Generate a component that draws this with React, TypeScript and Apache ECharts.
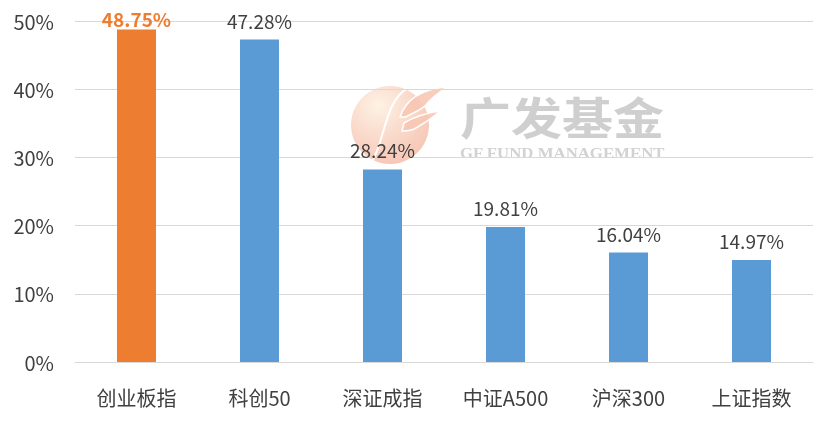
import React, { useEffect, useRef } from "react";
import * as echarts from "echarts";

const categories = ["创业板指", "科创50", "深证成指", "中证A500", "沪深300", "上证指数"];
const values = [48.75, 47.28, 28.24, 19.81, 16.04, 14.97];
const yTicks = [0, 10, 20, 30, 40, 50];
const highlightIndex = 0;

const FONT = "'Noto Sans CJK SC', 'Noto Sans', sans-serif";

echarts.graphic.registerShape(
  "gfWing",
  echarts.graphic.extendPath(
    "M0 30 C6 12 22 2 47 0 C38 6 30 12 26 18 C20 24 12 26 6 30 Z M4 36 C14 30 26 26 40 24 C32 32 24 36 14 42 C10 44 6 44 2 44 Z",
    {}
  )
);

export default function App() {
  const ref = useRef<HTMLDivElement>(null);
  useEffect(() => {
    if (!ref.current) return;
    const chart = echarts.init(ref.current, undefined, { renderer: "svg" });
    chart.setOption({
      animation: false,
      grid: { left: 75, right: 15, top: 21, bottom: 61 },
      graphic: [
        {
          type: "circle",
          z: 0,
          shape: { cx: 390, cy: 125, r: 39 },
          style: {
            fill: new echarts.graphic.RadialGradient(0.35, 0.25, 0.85, [
              { offset: 0, color: "rgba(253,242,228,0.95)" },
              { offset: 1, color: "rgba(245,185,165,0.85)" },
            ]),
          },
        },
        {
          type: "gfWing",
          z: 0,
          x: 400,
          y: 87,
          style: { fill: "rgba(247,200,180,0.9)", stroke: "#ffffff", lineWidth: 1.5 },
        },
        {
          type: "bezierCurve",
          z: 0,
          shape: { x1: 372, y1: 162, cpx1: 385, cpy1: 140, cpx2: 385, cpy2: 100, x2: 408, y2: 88 },
          style: { stroke: "#ffffff", lineWidth: 2, fill: "none" },
        },
        {
          type: "text",
          z: 0,
          x: 460,
          y: 94,
          scaleX: 1.16,
          style: {
            text: "广发基金",
            font: "bold 44px 'Noto Sans CJK SC'",
            fill: "#cfcfcf",
          },
        },
        {
          type: "text",
          z: 0,
          x: 460,
          y: 145,
          scaleX: 1.12,
          style: {
            text: "GF FUND MANAGEMENT",
            font: "bold 15px 'Liberation Serif', serif",
            fill: "#d2d2d2",
          },
        },
      ],
      xAxis: {
        type: "category",
        data: categories,
        axisLine: { lineStyle: { color: "#d9d9d9" } },
        axisTick: { show: false },
        axisLabel: { color: "#404040", fontSize: 20, fontFamily: FONT, margin: 25 },
      },
      yAxis: {
        type: "value",
        min: yTicks[0],
        max: yTicks[yTicks.length - 1],
        interval: 10,
        axisLine: { show: false },
        axisTick: { show: false },
        splitLine: { lineStyle: { color: "#d9d9d9" } },
        axisLabel: {
          color: "#404040",
          fontSize: 20,
          fontFamily: FONT,
          margin: 21,
          formatter: (v: number) => v + "%",
        },
      },
      series: [
        {
          type: "bar",
          barWidth: 39,
          z: 2,
          data: values.map((v, i) => ({
            value: v,
            itemStyle: { color: i === highlightIndex ? "#ED7D31" : "#5B9BD5" },
            label:
              i === highlightIndex
                ? { color: "#ED7D31", fontWeight: "bold", distance: 2 }
                : { color: "#404040", fontWeight: "normal" },
          })),
          label: {
            show: true,
            position: "top",
            distance: 10,
            fontSize: 19,
            fontFamily: FONT,
            formatter: (p: any) => p.value.toFixed(2) + "%",
          },
        },
      ],
    });
    return () => chart.dispose();
  }, []);
  return (
    <div
      ref={ref}
      style={{ position: "fixed", left: 0, top: 0, width: 828, height: 423 }}
    />
  );
}
